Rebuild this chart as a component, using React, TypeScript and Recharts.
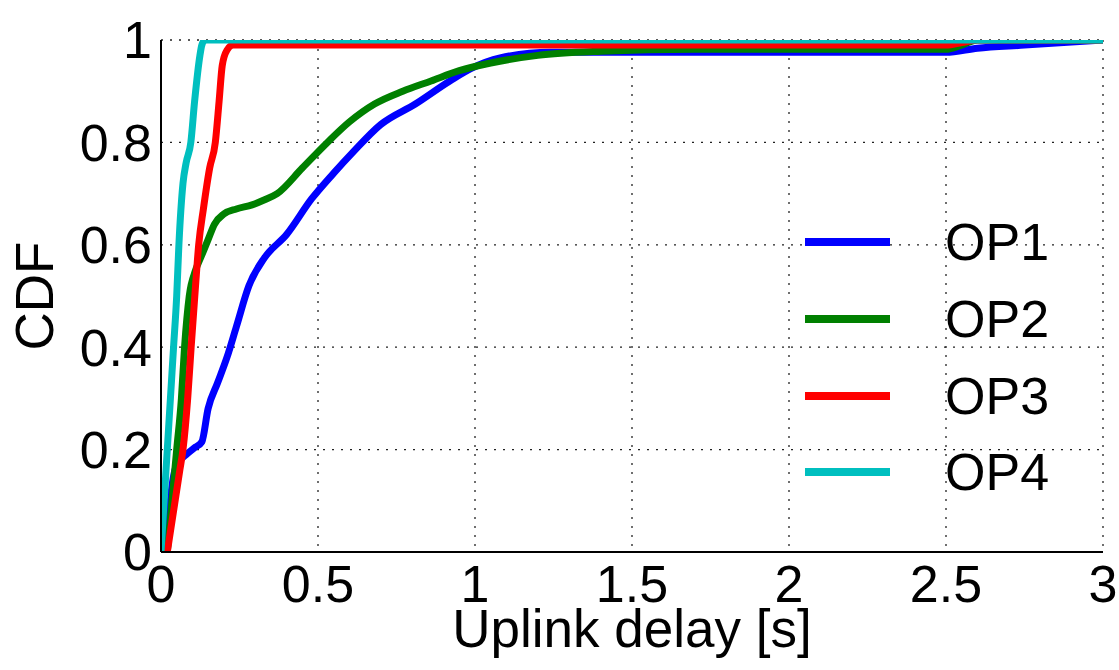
import React from "react";
import {
  LineChart,
  Line,
  XAxis,
  YAxis,
  CartesianGrid,
  Legend,
  Label,
} from "recharts";

// tick labels
const xTicks = [0, 0.5, 1, 1.5, 2, 2.5, 3];
const yTicks = [0, 0.2, 0.4, 0.6, 0.8, 1];

// OP1 (blue)
const op1X = [0.02, 0.03, 0.05, 0.08, 0.11, 0.13, 0.15, 0.18, 0.21, 0.24, 0.28, 0.33, 0.4, 0.48, 0.55, 0.61, 0.7, 0.81, 0.92, 0.99, 1.08, 1.24, 1.5, 2.0, 2.5, 2.6, 2.75, 2.9, 3.0];
const op1Y = [0, 0.1, 0.17, 0.19, 0.205, 0.215, 0.28, 0.33, 0.38, 0.44, 0.52, 0.575, 0.62, 0.69, 0.74, 0.78, 0.835, 0.875, 0.92, 0.945, 0.965, 0.976, 0.976, 0.976, 0.976, 0.984, 0.99, 0.996, 1.0];

// OP2 (green)
const op2X = [0.02, 0.035, 0.05, 0.065, 0.075, 0.09, 0.11, 0.13, 0.15, 0.17, 0.2, 0.24, 0.29, 0.33, 0.37, 0.45, 0.53, 0.6, 0.68, 0.77, 0.86, 0.95, 1.05, 1.2, 1.4, 1.7, 2.5, 2.55, 2.6, 3.0];
const op2Y = [0, 0.1, 0.2, 0.3, 0.4, 0.5, 0.55, 0.58, 0.61, 0.64, 0.66, 0.67, 0.678, 0.688, 0.7, 0.75, 0.8, 0.84, 0.875, 0.9, 0.92, 0.94, 0.955, 0.97, 0.978, 0.982, 0.982, 0.99, 1.0, 1.0];

// OP3 (red)
const op3X = [0.02, 0.04, 0.06, 0.07, 0.085, 0.096, 0.11, 0.12, 0.135, 0.155, 0.173, 0.185, 0.195, 0.21, 0.23, 0.26, 2.5, 2.55, 2.6, 3.0];
const op3Y = [0, 0.08, 0.16, 0.2, 0.3, 0.4, 0.52, 0.6, 0.67, 0.75, 0.8, 0.88, 0.95, 0.98, 0.99, 0.99, 0.99, 0.995, 1.0, 1.0];

// OP4 (cyan)
const op4X = [0, 0.01, 0.02, 0.03, 0.04, 0.05, 0.057, 0.07, 0.08, 0.095, 0.107, 0.124, 0.13, 0.14, 3.0];
const op4Y = [0, 0.1, 0.2, 0.3, 0.4, 0.5, 0.6, 0.72, 0.76, 0.8, 0.88, 0.97, 0.99, 1.0, 1.0];

const names = ["OP1", "OP2", "OP3", "OP4"];
const colors = ["#0000ff", "#008000", "#ff0000", "#00bfbf"];

const zip = (xs: number[], ys: number[]) => xs.map((x, i) => ({ x, y: ys[i] }));
const series = [
  zip(op1X, op1Y),
  zip(op2X, op2Y),
  zip(op3X, op3Y),
  zip(op4X, op4Y),
];

const FONT = "'Liberation Sans', Arial, Helvetica, sans-serif";
const tickStyle = { fontSize: 52, fill: "#000", fontFamily: FONT };

function renderLegend() {
  return (
    <div style={{ fontFamily: FONT }}>
      {names.map((n, i) => (
        <div
          key={n}
          style={{ display: "flex", alignItems: "center", height: 76.7 }}
        >
          <div style={{ width: 85, height: 8, background: colors[i] }} />
          <span style={{ marginLeft: 55, fontSize: 52, color: "#000", lineHeight: 1 }}>
            {n}
          </span>
        </div>
      ))}
    </div>
  );
}

export default function App() {
  return (
    <div style={{ position: "absolute", left: 0, top: 0, background: "#fff" }}>
      <LineChart
        width={1119}
        height={670}
        margin={{ top: 40, right: 16, bottom: 0, left: 0 }}
      >
        <CartesianGrid
          stroke="#222"
          strokeWidth={1.3}
          strokeDasharray="2 7"
        />
        {/* inward tick marks on all four sides */}
        <XAxis
          xAxisId="bt"
          type="number"
          dataKey="x"
          domain={[0, 3]}
          ticks={xTicks}
          orientation="bottom"
          mirror
          height={0}
          tick={false}
          tickSize={8}
          axisLine={false}
          tickLine={{ stroke: "#000", strokeWidth: 1.5 }}
        />
        <XAxis
          type="number"
          dataKey="x"
          domain={[0, 3]}
          ticks={xTicks}
          allowDataOverflow
          height={118}
          tickSize={0}
          tickMargin={13}
          tickLine={false}
          axisLine={{ stroke: "#000", strokeWidth: 2 }}
          tick={tickStyle}
        >
          <Label
            content={(props: any) => {
              const vb = props.viewBox;
              return (
                <text
                  x={vb.x + vb.width / 2}
                  y={vb.y + 95}
                  textAnchor="middle"
                  fontSize={53}
                  fontFamily={FONT}
                  fill="#000"
                >
                  Uplink delay [s]
                </text>
              );
            }}
          />
        </XAxis>
        <XAxis
          xAxisId="top"
          type="number"
          dataKey="x"
          domain={[0, 3]}
          ticks={xTicks}
          orientation="top"
          mirror
          height={0}
          tick={false}
          tickSize={8}
          axisLine={{ stroke: "#000", strokeWidth: 2 }}
          tickLine={{ stroke: "#000", strokeWidth: 1.5 }}
        />
        <YAxis
          yAxisId="lt"
          type="number"
          domain={[0, 1]}
          ticks={yTicks}
          orientation="left"
          mirror
          width={0}
          tick={false}
          tickSize={8}
          axisLine={false}
          tickLine={{ stroke: "#000", strokeWidth: 1.5 }}
        />
        <YAxis
          type="number"
          domain={[0, 1]}
          ticks={yTicks}
          allowDataOverflow
          width={161}
          tickSize={0}
          tickMargin={9}
          tickLine={false}
          axisLine={{ stroke: "#000", strokeWidth: 2 }}
          tick={tickStyle}
        >
          <Label
            content={(props: any) => {
              const vb = props.viewBox;
              const cy = vb.y + vb.height / 2;
              return (
                <text
                  x={53}
                  y={cy}
                  textAnchor="middle"
                  fontSize={53}
                  fontFamily={FONT}
                  fill="#000"
                  transform={`rotate(-90, 53, ${cy})`}
                >
                  CDF
                </text>
              );
            }}
          />
        </YAxis>
        <YAxis
          yAxisId="right"
          type="number"
          domain={[0, 1]}
          ticks={yTicks}
          orientation="right"
          mirror
          width={0}
          tick={false}
          tickSize={8}
          axisLine={{ stroke: "#000", strokeWidth: 2 }}
          tickLine={{ stroke: "#000", strokeWidth: 1.5 }}
        />
        <Legend
          layout="horizontal"
          align="center"
          verticalAlign="middle"
          content={renderLegend}
          wrapperStyle={{ left: 805, top: 204, width: 260 }}
        />
        {series.map((d, i) => (
          <Line
            key={names[i]}
            data={d}
            dataKey="y"
            name={names[i]}
            type="monotone"
            stroke={colors[i]}
            strokeWidth={7}
            dot={false}
            activeDot={false}
            isAnimationActive={false}
          />
        ))}
      </LineChart>
    </div>
  );
}
